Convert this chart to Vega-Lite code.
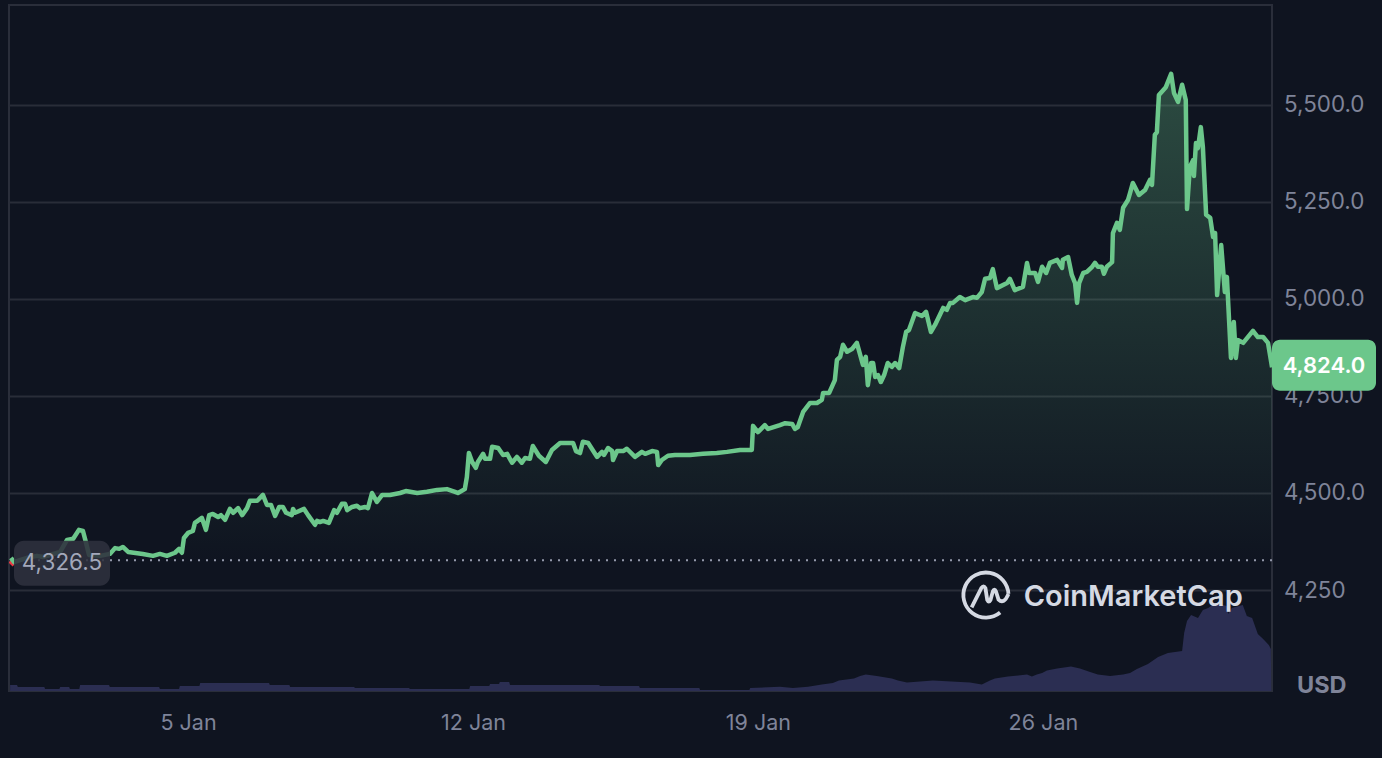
{"$schema":"https://vega.github.io/schema/vega-lite/v6.json","width":1263,"height":686,"autosize":"none","padding":{"left":9,"top":5,"right":110,"bottom":67},"background":"#0f1420","config":{"view":{"stroke":"#2a2e3a","strokeWidth":2},"font":"Inter"},
"datasets":{"prices":[
{"day":0.63,"price":4325,"trend":"down"},{"day":0.73,"price":4315,"trend":"down"},
{"day":0.65,"price":4333,"trend":"up"},{"day":0.73,"price":4322,"trend":"up"},{"day":0.87,"price":4327,"trend":"up"},{"day":1.05,"price":4333,"trend":"up"},{"day":1.29,"price":4338,"trend":"up"},{"day":1.44,"price":4335,"trend":"up"},{"day":1.86,"price":4348,"trend":"up"},{"day":1.93,"price":4361,"trend":"up"},{"day":2.03,"price":4379,"trend":"up"},{"day":2.18,"price":4382,"trend":"up"},{"day":2.32,"price":4405,"trend":"up"},{"day":2.42,"price":4402,"trend":"up"},{"day":2.49,"price":4374,"trend":"up"},{"day":2.57,"price":4340,"trend":"up"},{"day":2.84,"price":4338,"trend":"up"},{"day":3.08,"price":4343,"trend":"up"},{"day":3.21,"price":4358,"trend":"up"},{"day":3.31,"price":4356,"trend":"up"},{"day":3.40,"price":4361,"trend":"up"},{"day":3.53,"price":4348,"trend":"up"},{"day":3.89,"price":4343,"trend":"up"},{"day":4.14,"price":4338,"trend":"up"},{"day":4.31,"price":4343,"trend":"up"},{"day":4.48,"price":4338,"trend":"up"},{"day":4.68,"price":4346,"trend":"up"},{"day":4.78,"price":4356,"trend":"up"},{"day":4.85,"price":4346,"trend":"up"},{"day":4.90,"price":4384,"trend":"up"},{"day":5.00,"price":4397,"trend":"up"},{"day":5.12,"price":4402,"trend":"up"},{"day":5.17,"price":4423,"trend":"up"},{"day":5.34,"price":4436,"trend":"up"},{"day":5.44,"price":4405,"trend":"up"},{"day":5.52,"price":4443,"trend":"up"},{"day":5.61,"price":4446,"trend":"up"},{"day":5.74,"price":4438,"trend":"up"},{"day":5.81,"price":4443,"trend":"up"},{"day":5.91,"price":4431,"trend":"up"},{"day":6.03,"price":4459,"trend":"up"},{"day":6.11,"price":4449,"trend":"up"},{"day":6.23,"price":4461,"trend":"up"},{"day":6.33,"price":4443,"trend":"up"},{"day":6.45,"price":4461,"trend":"up"},{"day":6.52,"price":4480,"trend":"up"},{"day":6.70,"price":4480,"trend":"up"},{"day":6.84,"price":4495,"trend":"up"},{"day":6.94,"price":4469,"trend":"up"},{"day":7.04,"price":4469,"trend":"up"},{"day":7.14,"price":4441,"trend":"up"},{"day":7.24,"price":4464,"trend":"up"},{"day":7.33,"price":4464,"trend":"up"},{"day":7.41,"price":4449,"trend":"up"},{"day":7.55,"price":4443,"trend":"up"},{"day":7.58,"price":4459,"trend":"up"},{"day":7.63,"price":4449,"trend":"up"},{"day":7.85,"price":4459,"trend":"up"},{"day":7.95,"price":4443,"trend":"up"},{"day":8.12,"price":4418,"trend":"up"},{"day":8.17,"price":4428,"trend":"up"},{"day":8.24,"price":4425,"trend":"up"},{"day":8.32,"price":4428,"trend":"up"},{"day":8.46,"price":4423,"trend":"up"},{"day":8.59,"price":4456,"trend":"up"},{"day":8.66,"price":4449,"trend":"up"},{"day":8.78,"price":4472,"trend":"up"},{"day":8.86,"price":4472,"trend":"up"},{"day":8.91,"price":4456,"trend":"up"},{"day":9.03,"price":4464,"trend":"up"},{"day":9.15,"price":4467,"trend":"up"},{"day":9.22,"price":4461,"trend":"up"},{"day":9.35,"price":4464,"trend":"up"},{"day":9.42,"price":4461,"trend":"up"},{"day":9.52,"price":4500,"trend":"up"},{"day":9.64,"price":4477,"trend":"up"},{"day":9.77,"price":4495,"trend":"up"},{"day":9.96,"price":4495,"trend":"up"},{"day":10.21,"price":4500,"trend":"up"},{"day":10.35,"price":4505,"trend":"up"},{"day":10.63,"price":4500,"trend":"up"},{"day":10.87,"price":4503,"trend":"up"},{"day":11.12,"price":4508,"trend":"up"},{"day":11.36,"price":4510,"trend":"up"},{"day":11.56,"price":4503,"trend":"up"},{"day":11.63,"price":4500,"trend":"up"},{"day":11.80,"price":4510,"trend":"up"},{"day":11.85,"price":4541,"trend":"up"},{"day":11.90,"price":4603,"trend":"up"},{"day":11.98,"price":4580,"trend":"up"},{"day":12.07,"price":4565,"trend":"up"},{"day":12.12,"price":4580,"trend":"up"},{"day":12.25,"price":4601,"trend":"up"},{"day":12.30,"price":4588,"trend":"up"},{"day":12.42,"price":4588,"trend":"up"},{"day":12.47,"price":4619,"trend":"up"},{"day":12.62,"price":4616,"trend":"up"},{"day":12.74,"price":4598,"trend":"up"},{"day":12.84,"price":4601,"trend":"up"},{"day":12.96,"price":4578,"trend":"up"},{"day":13.08,"price":4593,"trend":"up"},{"day":13.20,"price":4578,"trend":"up"},{"day":13.28,"price":4590,"trend":"up"},{"day":13.40,"price":4588,"trend":"up"},{"day":13.47,"price":4621,"trend":"up"},{"day":13.62,"price":4596,"trend":"up"},{"day":13.79,"price":4580,"trend":"up"},{"day":13.94,"price":4611,"trend":"up"},{"day":14.14,"price":4629,"trend":"up"},{"day":14.31,"price":4629,"trend":"up"},{"day":14.46,"price":4629,"trend":"up"},{"day":14.53,"price":4608,"trend":"up"},{"day":14.63,"price":4603,"trend":"up"},{"day":14.70,"price":4632,"trend":"up"},{"day":14.83,"price":4629,"trend":"up"},{"day":15.05,"price":4593,"trend":"up"},{"day":15.17,"price":4606,"trend":"up"},{"day":15.22,"price":4598,"trend":"up"},{"day":15.32,"price":4616,"trend":"up"},{"day":15.42,"price":4608,"trend":"up"},{"day":15.44,"price":4585,"trend":"up"},{"day":15.54,"price":4608,"trend":"up"},{"day":15.69,"price":4608,"trend":"up"},{"day":15.78,"price":4614,"trend":"up"},{"day":15.98,"price":4593,"trend":"up"},{"day":16.15,"price":4606,"trend":"up"},{"day":16.23,"price":4601,"trend":"up"},{"day":16.40,"price":4608,"trend":"up"},{"day":16.52,"price":4606,"trend":"up"},{"day":16.55,"price":4572,"trend":"up"},{"day":16.64,"price":4585,"trend":"up"},{"day":16.79,"price":4596,"trend":"up"},{"day":16.96,"price":4598,"trend":"up"},{"day":17.33,"price":4598,"trend":"up"},{"day":17.65,"price":4601,"trend":"up"},{"day":17.99,"price":4603,"trend":"up"},{"day":18.24,"price":4606,"trend":"up"},{"day":18.56,"price":4611,"trend":"up"},{"day":18.85,"price":4611,"trend":"up"},{"day":18.88,"price":4673,"trend":"up"},{"day":19.00,"price":4657,"trend":"up"},{"day":19.17,"price":4675,"trend":"up"},{"day":19.25,"price":4665,"trend":"up"},{"day":19.54,"price":4675,"trend":"up"},{"day":19.67,"price":4680,"trend":"up"},{"day":19.84,"price":4678,"trend":"up"},{"day":19.91,"price":4665,"trend":"up"},{"day":19.98,"price":4670,"trend":"up"},{"day":20.11,"price":4709,"trend":"up"},{"day":20.28,"price":4732,"trend":"up"},{"day":20.45,"price":4732,"trend":"up"},{"day":20.57,"price":4740,"trend":"up"},{"day":20.60,"price":4758,"trend":"up"},{"day":20.75,"price":4758,"trend":"up"},{"day":20.89,"price":4791,"trend":"up"},{"day":20.94,"price":4843,"trend":"up"},{"day":21.02,"price":4851,"trend":"up"},{"day":21.09,"price":4882,"trend":"up"},{"day":21.19,"price":4864,"trend":"up"},{"day":21.31,"price":4871,"trend":"up"},{"day":21.43,"price":4887,"trend":"up"},{"day":21.58,"price":4830,"trend":"up"},{"day":21.65,"price":4851,"trend":"up"},{"day":21.70,"price":4778,"trend":"up"},{"day":21.78,"price":4835,"trend":"up"},{"day":21.83,"price":4835,"trend":"up"},{"day":21.88,"price":4799,"trend":"up"},{"day":21.95,"price":4804,"trend":"up"},{"day":22.02,"price":4786,"trend":"up"},{"day":22.10,"price":4804,"trend":"up"},{"day":22.19,"price":4835,"trend":"up"},{"day":22.29,"price":4825,"trend":"up"},{"day":22.37,"price":4835,"trend":"up"},{"day":22.47,"price":4822,"trend":"up"},{"day":22.56,"price":4876,"trend":"up"},{"day":22.64,"price":4915,"trend":"up"},{"day":22.71,"price":4920,"trend":"up"},{"day":22.86,"price":4964,"trend":"up"},{"day":23.03,"price":4956,"trend":"up"},{"day":23.13,"price":4967,"trend":"up"},{"day":23.25,"price":4915,"trend":"up"},{"day":23.35,"price":4933,"trend":"up"},{"day":23.55,"price":4977,"trend":"up"},{"day":23.64,"price":4972,"trend":"up"},{"day":23.72,"price":4990,"trend":"up"},{"day":23.79,"price":4990,"trend":"up"},{"day":23.96,"price":5005,"trend":"up"},{"day":24.09,"price":4997,"trend":"up"},{"day":24.28,"price":5005,"trend":"up"},{"day":24.38,"price":5003,"trend":"up"},{"day":24.50,"price":5018,"trend":"up"},{"day":24.58,"price":5052,"trend":"up"},{"day":24.70,"price":5054,"trend":"up"},{"day":24.77,"price":5077,"trend":"up"},{"day":24.87,"price":5028,"trend":"up"},{"day":25.12,"price":5041,"trend":"up"},{"day":25.19,"price":5052,"trend":"up"},{"day":25.31,"price":5023,"trend":"up"},{"day":25.51,"price":5031,"trend":"up"},{"day":25.61,"price":5093,"trend":"up"},{"day":25.66,"price":5067,"trend":"up"},{"day":25.81,"price":5067,"trend":"up"},{"day":25.88,"price":5044,"trend":"up"},{"day":25.98,"price":5083,"trend":"up"},{"day":26.08,"price":5067,"trend":"up"},{"day":26.17,"price":5093,"trend":"up"},{"day":26.35,"price":5101,"trend":"up"},{"day":26.47,"price":5080,"trend":"up"},{"day":26.49,"price":5101,"trend":"up"},{"day":26.62,"price":5108,"trend":"up"},{"day":26.71,"price":5062,"trend":"up"},{"day":26.79,"price":5041,"trend":"up"},{"day":26.84,"price":4990,"trend":"up"},{"day":26.89,"price":5041,"trend":"up"},{"day":26.99,"price":5067,"trend":"up"},{"day":27.08,"price":5070,"trend":"up"},{"day":27.21,"price":5083,"trend":"up"},{"day":27.28,"price":5093,"trend":"up"},{"day":27.35,"price":5083,"trend":"up"},{"day":27.45,"price":5083,"trend":"up"},{"day":27.50,"price":5065,"trend":"up"},{"day":27.57,"price":5083,"trend":"up"},{"day":27.70,"price":5095,"trend":"up"},{"day":27.72,"price":5170,"trend":"up"},{"day":27.82,"price":5196,"trend":"up"},{"day":27.89,"price":5178,"trend":"up"},{"day":27.97,"price":5235,"trend":"up"},{"day":28.09,"price":5255,"trend":"up"},{"day":28.14,"price":5273,"trend":"up"},{"day":28.21,"price":5299,"trend":"up"},{"day":28.36,"price":5268,"trend":"up"},{"day":28.51,"price":5281,"trend":"up"},{"day":28.63,"price":5307,"trend":"up"},{"day":28.68,"price":5294,"trend":"up"},{"day":28.75,"price":5423,"trend":"up"},{"day":28.80,"price":5430,"trend":"up"},{"day":28.85,"price":5526,"trend":"up"},{"day":29.02,"price":5546,"trend":"up"},{"day":29.15,"price":5580,"trend":"up"},{"day":29.22,"price":5531,"trend":"up"},{"day":29.32,"price":5508,"trend":"up"},{"day":29.42,"price":5552,"trend":"up"},{"day":29.51,"price":5513,"trend":"up"},{"day":29.54,"price":5232,"trend":"up"},{"day":29.61,"price":5340,"trend":"up"},{"day":29.69,"price":5358,"trend":"up"},{"day":29.71,"price":5317,"trend":"up"},{"day":29.76,"price":5402,"trend":"up"},{"day":29.81,"price":5389,"trend":"up"},{"day":29.88,"price":5443,"trend":"up"},{"day":29.93,"price":5392,"trend":"up"},{"day":30.01,"price":5217,"trend":"up"},{"day":30.11,"price":5209,"trend":"up"},{"day":30.18,"price":5160,"trend":"up"},{"day":30.23,"price":5170,"trend":"up"},{"day":30.28,"price":5010,"trend":"up"},{"day":30.38,"price":5139,"trend":"up"},{"day":30.47,"price":5018,"trend":"up"},{"day":30.52,"price":5057,"trend":"up"},{"day":30.62,"price":4848,"trend":"up"},{"day":30.69,"price":4941,"trend":"up"},{"day":30.74,"price":4848,"trend":"up"},{"day":30.79,"price":4894,"trend":"up"},{"day":30.92,"price":4887,"trend":"up"},{"day":31.16,"price":4918,"trend":"up"},{"day":31.28,"price":4902,"trend":"up"},{"day":31.41,"price":4902,"trend":"up"},{"day":31.53,"price":4887,"trend":"up"},{"day":31.63,"price":4824,"trend":"up"}],
"volumes":[{"day":0.63,"vol":0.3},{"day":0.80,"vol":0.3},{"day":0.82,"vol":0.2},{"day":1.47,"vol":0.2},{"day":1.49,"vol":0.1},{"day":1.84,"vol":0.1},{"day":1.86,"vol":0.2},{"day":2.08,"vol":0.2},{"day":2.10,"vol":0.1},{"day":2.33,"vol":0.1},{"day":2.35,"vol":0.3},{"day":3.06,"vol":0.3},{"day":3.08,"vol":0.2},{"day":4.29,"vol":0.2},{"day":4.31,"vol":0.1},{"day":4.78,"vol":0.1},{"day":4.80,"vol":0.25},{"day":5.28,"vol":0.25},{"day":5.30,"vol":0.4},{"day":6.99,"vol":0.4},{"day":7.01,"vol":0.3},{"day":7.49,"vol":0.3},{"day":7.51,"vol":0.2},{"day":9.08,"vol":0.2},{"day":9.10,"vol":0.15},{"day":10.43,"vol":0.15},{"day":10.45,"vol":0.1},{"day":11.91,"vol":0.1},{"day":11.93,"vol":0.25},{"day":12.40,"vol":0.25},{"day":12.42,"vol":0.35},{"day":12.64,"vol":0.35},{"day":12.66,"vol":0.45},{"day":12.89,"vol":0.45},{"day":12.91,"vol":0.3},{"day":15.10,"vol":0.3},{"day":15.12,"vol":0.25},{"day":16.08,"vol":0.25},{"day":16.10,"vol":0.15},{"day":17.56,"vol":0.15},{"day":17.58,"vol":0.05},{"day":18.79,"vol":0.05},{"day":18.81,"vol":0.15},{"day":19.54,"vol":0.215},{"day":19.86,"vol":0.15},{"day":20.23,"vol":0.215},{"day":20.57,"vol":0.325},{"day":20.84,"vol":0.4},{"day":20.99,"vol":0.525},{"day":21.36,"vol":0.625},{"day":21.51,"vol":0.75},{"day":21.65,"vol":0.825},{"day":21.92,"vol":0.75},{"day":22.29,"vol":0.625},{"day":22.44,"vol":0.525},{"day":22.66,"vol":0.425},{"day":23.30,"vol":0.525},{"day":24.21,"vol":0.425},{"day":24.50,"vol":0.325},{"day":24.70,"vol":0.525},{"day":24.82,"vol":0.625},{"day":25.14,"vol":0.725},{"day":25.61,"vol":0.825},{"day":25.73,"vol":0.725},{"day":25.85,"vol":0.825},{"day":25.98,"vol":0.9},{"day":26.10,"vol":1.025},{"day":26.35,"vol":1.125},{"day":26.69,"vol":1.225},{"day":26.91,"vol":1.125},{"day":27.16,"vol":0.95},{"day":27.35,"vol":0.825},{"day":27.65,"vol":0.75},{"day":27.97,"vol":0.825},{"day":28.14,"vol":0.9},{"day":28.31,"vol":1.1},{"day":28.58,"vol":1.35},{"day":28.83,"vol":1.7},{"day":29.07,"vol":1.9},{"day":29.42,"vol":2.0},{"day":29.47,"vol":2.9},{"day":29.54,"vol":3.5},{"day":29.64,"vol":3.8},{"day":29.81,"vol":3.65},{"day":29.93,"vol":4.05},{"day":30.06,"vol":4.15},{"day":30.23,"vol":4.4},{"day":30.52,"vol":4.25},{"day":30.55,"vol":3.85},{"day":30.64,"vol":4.15},{"day":30.91,"vol":4.3},{"day":31.01,"vol":3.75},{"day":31.14,"vol":3.65},{"day":31.28,"vol":2.85},{"day":31.41,"vol":2.6},{"day":31.55,"vol":2.3},{"day":31.60,"vol":2.1},{"day":31.61,"vol":0}],
"marks":[{"day":0.603,"price":4326.5,"label":"4,326.5"}],
"last":[{"day":31.628,"price":4824,"label":"4,824.0"}]},
"layer":[
{"data":{"name":"volumes"},"mark":{"type":"area","color":"#2b2e52","clip":true},"encoding":{"x":{"field":"day","type":"quantitative","title":null,"scale":{"domain":[0.603,31.628],"nice":false,"zero":false},"axis":{"values":[5,12,19,26],"labelExpr":"datum.value + ' Jan'","grid":false,"domain":false,"ticks":false,"labelFontSize":21.5,"labelColor":"#7f8499","labelPadding":21,"labelFont":"Inter"}},"y":{"field":"vol","type":"quantitative","title":null,"axis":null,"scale":{"domain":[0,34.3],"nice":false}}}},
{"layer":[
{"data":{"name":"prices"},"transform":[{"filter":"datum.trend === 'up'"}],"mark":{"type":"area","clip":true,"color":{"gradient":"linear","x1":0,"y1":0,"x2":0,"y2":1,"stops":[{"offset":0,"color":"rgba(108,199,139,0.31)"},{"offset":1,"color":"rgba(108,199,139,0.0)"}]}},"encoding":{"x":{"field":"day","type":"quantitative"},"y":{"field":"price","type":"quantitative","title":null,"scale":{"domain":[3989.7,5757.7],"nice":false,"zero":false},"axis":{"values":[4250,4500,4750,5000,5250,5500],"labelExpr":"datum.value === 4250 ? '4,250' : format(datum.value, ',.1f')","orient":"right","grid":true,"gridColor":"#292d38","gridWidth":2,"domain":false,"ticks":false,"labelFontSize":22.4,"labelColor":"#7f8499","labelPadding":11.5,"labelFont":"Inter"}},"y2":{"datum":4326.5}}},
{"data":{"name":"marks"},"mark":{"type":"rule","color":"#9499ab","strokeWidth":2,"strokeDash":[2,6]},"encoding":{"y":{"field":"price","type":"quantitative","title":null}}},
{"data":{"name":"prices"},"mark":{"type":"line","strokeWidth":4.5,"strokeJoin":"round","clip":true},"encoding":{"x":{"field":"day","type":"quantitative"},"y":{"field":"price","type":"quantitative","title":null},"color":{"field":"trend","type":"nominal","legend":null,"scale":{"domain":["up","down"],"range":["#6cc78b","#ea3943"]}}}},
{"data":{"name":"marks"},"mark":{"type":"rect","width":96,"height":45,"xOffset":53,"yOffset":3,"cornerRadius":10,"color":"#2f313d","opacity":0.88},"encoding":{"x":{"field":"day","type":"quantitative"},"y":{"field":"price","type":"quantitative","title":null}}},
{"data":{"name":"marks"},"mark":{"type":"text","dx":53,"dy":3,"align":"center","baseline":"middle","fontSize":22.5,"color":"#a3a8bb","font":"Inter"},"encoding":{"x":{"field":"day","type":"quantitative"},"y":{"field":"price","type":"quantitative","title":null},"text":{"field":"label"}}},
{"data":{"name":"last"},"mark":{"type":"rect","width":104,"height":51,"xOffset":52,"yOffset":-2,"cornerRadius":8,"color":"#6cc78b"},"encoding":{"x":{"field":"day","type":"quantitative"},"y":{"field":"price","type":"quantitative","title":null}}},
{"data":{"name":"last"},"mark":{"type":"text","dx":52,"dy":-1,"align":"center","baseline":"middle","fontSize":22,"fontWeight":600,"color":"#ffffff","font":"Inter"},"encoding":{"x":{"field":"day","type":"quantitative"},"y":{"field":"price","type":"quantitative","title":null},"text":{"field":"label"}}},
{"data":{"values":[{"unit":"USD"}]},"mark":{"type":"text","dx":25,"align":"left","baseline":"middle","fontSize":23.5,"fontWeight":700,"color":"#7f8499","font":"Inter"},"encoding":{"x":{"datum":31.628,"type":"quantitative"},"y":{"datum":4003,"type":"quantitative","title":null},"text":{"field":"unit"}}},
{"data":{"values":[{"brand":"CoinMarketCap"}]},"mark":{"type":"text","align":"left","baseline":"middle","fontSize":29,"fontWeight":600,"color":"#d5d9e3","font":"Inter"},"encoding":{"x":{"datum":25.53,"type":"quantitative"},"y":{"datum":4232,"type":"quantitative","title":null},"text":{"field":"brand"}}},
{"data":{"values":[{"brand":"CoinMarketCap"}]},"mark":{"type":"point","filled":false,"stroke":"#d5d9e3","strokeWidth":3.8,"size":2116,"opacity":1,"shape":"M 0.62 0.76 A 0.98 0.98 0 1 1 0.98 -0.05 M -0.62 0.54 L -0.2 -0.3 Q -0.1 -0.45 -0.02 -0.3 L 0.06 0.22 Q 0.12 0.36 0.2 0.22 L 0.3 -0.15 Q 0.37 -0.32 0.44 -0.15 L 0.55 0.2 Q 0.78 0.42 0.98 -0.05"},"encoding":{"x":{"datum":24.60,"type":"quantitative"},"y":{"datum":4237,"type":"quantitative","title":null}}}
]}
],"resolve":{"scale":{"y":"independent"}}}
